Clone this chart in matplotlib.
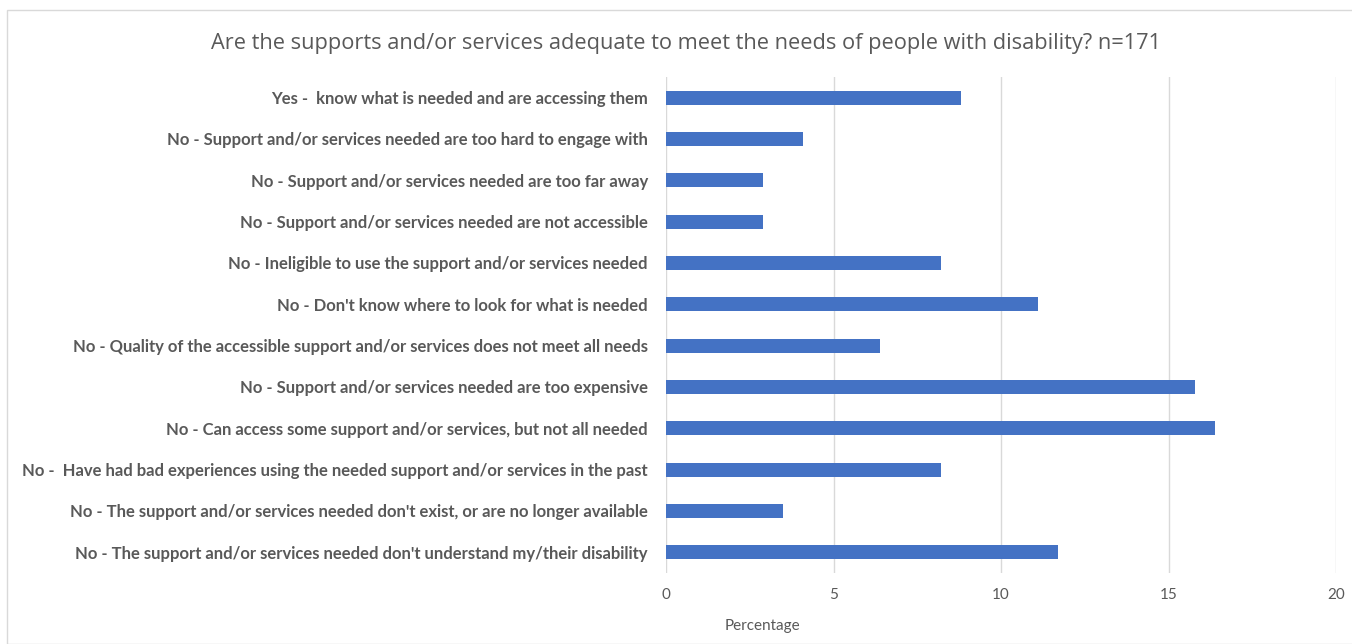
import matplotlib
matplotlib.use("Agg")
import matplotlib.pyplot as plt
from matplotlib.patches import Rectangle

categories = [
    "Yes -  know what is needed and are accessing them",
    "No - Support and/or services needed are too hard to engage with",
    "No - Support and/or services needed are too far away",
    "No - Support and/or services needed are not accessible",
    "No - Ineligible to use the support and/or services needed",
    "No - Don't know where to look for what is needed",
    "No - Quality of the accessible support and/or services does not meet all needs",
    "No - Support and/or services needed are too expensive",
    "No - Can access some support and/or services, but not all needed",
    "No -  Have had bad experiences using the needed support and/or services in the past",
    "No - The support and/or services needed don't exist, or are no longer available",
    "No - The support and/or services needed don't understand my/their disability",
]
values = [8.8, 4.1, 2.9, 2.9, 8.2, 11.1, 6.4, 15.8, 16.4, 8.2, 3.5, 11.7]
xticks = [0, 5, 10, 15, 20]

plt.rcParams['font.family'] = ['Lato', 'DejaVu Sans']

W, H = 1352, 644
fig = plt.figure(figsize=(W/100, H/100), dpi=100)
fig.patches.append(Rectangle((7/W, 0), 1, 1 - 10/H, transform=fig.transFigure,
                             fill=False, edgecolor='#d9d9d9', linewidth=1))

ax = fig.add_axes([666/W, 1 - 573/H, (1336-666)/W, (573-77)/H])
y = list(range(len(categories)))
ax.barh(y, values, height=0.34, color='#4472C4', zorder=3)
ax.set_ylim(len(categories) - 0.5, -0.5)
ax.set_xlim(0, 20)
ax.set_xticks(xticks)
ax.set_xticklabels([str(t) for t in xticks], color='#595959', fontsize=11)
ax.set_yticks(y)
ax.set_yticklabels(categories, fontsize=12, fontweight='bold', color='#595959')
ax.tick_params(axis='both', length=0)
ax.tick_params(axis='x', pad=11)
ax.tick_params(axis='y', pad=13)
ax.grid(axis='x', color='#d9d9d9', linewidth=1, zorder=0)
for s in ax.spines.values():
    s.set_visible(False)

fig.text(686/W, 1 - 43/H, "Are the supports and/or services adequate to meet the needs of people with disability? n=171",
         ha='center', va='center', fontsize=15.7, color='#595959', family=['Open Sans', 'DejaVu Sans'])
fig.text(762/W, 1 - 626/H, "Percentage", ha='center', va='center', fontsize=11, color='#595959')

fig.savefig("out.png", dpi=100)
